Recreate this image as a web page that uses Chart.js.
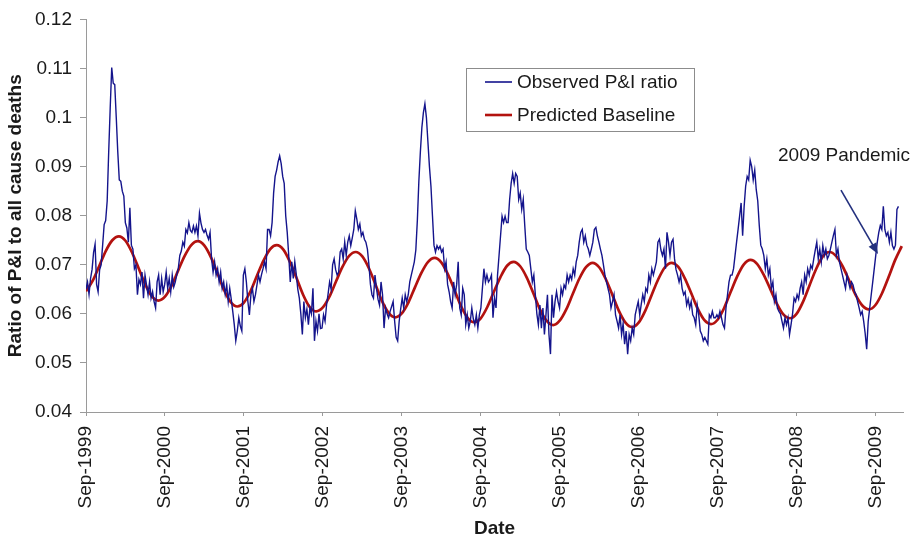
<!DOCTYPE html>
<html>
<head>
<meta charset="utf-8">
<script src="https://cdn.jsdelivr.net/npm/chart.js@4.4.1/dist/chart.umd.min.js"></script>
<style>
  html, body { margin: 0; padding: 0; background: #fff; }
</style>
</head>
<body>
<canvas id="piChart" width="920" height="540"></canvas>
<script>
// x axis runs in weeks from Sep-1999
const WEEKS_PER_YEAR = 52.18;
const xTickLabels = ['Sep-1999', 'Sep-2000', 'Sep-2001', 'Sep-2002', 'Sep-2003', 'Sep-2004',
    'Sep-2005', 'Sep-2006', 'Sep-2007', 'Sep-2008', 'Sep-2009'];
const seriesNames = ['Observed P&I ratio', 'Predicted Baseline'];

// weekly observed P&I ratio, one row of 52 weeks per season
const observedRatio = [
    // 1999-00
    0.0650, 0.0665, 0.0640, 0.0672, 0.0690, 0.0725, 0.0742, 0.0660, 0.0645, 0.0690,
    0.0700, 0.0740, 0.0782, 0.0790, 0.0830, 0.0930, 0.1020, 0.1102, 0.1070, 0.1067,
    0.1000, 0.0930, 0.0873, 0.0870, 0.0850, 0.0840, 0.0786, 0.0775, 0.0746, 0.0816,
    0.0740, 0.0732, 0.0692, 0.0700, 0.0639, 0.0670, 0.0660, 0.0685, 0.0632, 0.0679,
    0.0659, 0.0639, 0.0665, 0.0632, 0.0645, 0.0625, 0.0612, 0.0665, 0.0679, 0.0639,
    0.0672, 0.0645,
    // 2000-01
    0.0660, 0.0685, 0.0652, 0.0672, 0.0645, 0.0679, 0.0655, 0.0665, 0.0680, 0.0692,
    0.0719, 0.0728, 0.0746, 0.0738, 0.0772, 0.0765, 0.0786, 0.0770, 0.0766, 0.0779,
    0.0766, 0.0779, 0.0759, 0.0805, 0.0785, 0.0772, 0.0766, 0.0772, 0.0760, 0.0752,
    0.0766, 0.0712, 0.0685, 0.0706, 0.0679, 0.0692, 0.0665, 0.0685, 0.0652, 0.0665,
    0.0640, 0.0659, 0.0625, 0.0652, 0.0630, 0.0605, 0.0578, 0.0545, 0.0565, 0.0592,
    0.0575, 0.0565,
    // 2001-02
    0.0679, 0.0692, 0.0665, 0.0625, 0.0598, 0.0639, 0.0652, 0.0625, 0.0639, 0.0659,
    0.0679, 0.0665, 0.0680, 0.0692, 0.0706, 0.0692, 0.0772, 0.0772, 0.0759, 0.0786,
    0.0846, 0.0880, 0.0893, 0.0910, 0.0922, 0.0906, 0.0880, 0.0866, 0.0800, 0.0766,
    0.0719, 0.0665, 0.0706, 0.0672, 0.0706, 0.0680, 0.0650, 0.0632, 0.0600, 0.0558,
    0.0625, 0.0592, 0.0610, 0.0578, 0.0612, 0.0600, 0.0652, 0.0545, 0.0585, 0.0565,
    0.0600, 0.0570,
    // 2002-03
    0.0571, 0.0598, 0.0585, 0.0618, 0.0640, 0.0665, 0.0650, 0.0700, 0.0712, 0.0690,
    0.0679, 0.0685, 0.0726, 0.0732, 0.0712, 0.0746, 0.0719, 0.0746, 0.0759, 0.0739,
    0.0755, 0.0772, 0.0810, 0.0793, 0.0772, 0.0783, 0.0759, 0.0766, 0.0752, 0.0746,
    0.0732, 0.0700, 0.0660, 0.0639, 0.0632, 0.0679, 0.0652, 0.0630, 0.0618, 0.0665,
    0.0639, 0.0571, 0.0612, 0.0600, 0.0592, 0.0605, 0.0615, 0.0625, 0.0585, 0.0552,
    0.0545, 0.0585,
    // 2003-04
    0.0610, 0.0632, 0.0612, 0.0639, 0.0625, 0.0639, 0.0665, 0.0679, 0.0692, 0.0706,
    0.0730, 0.0790, 0.0870, 0.0930, 0.0980, 0.1010, 0.1028, 0.1000, 0.0950, 0.0900,
    0.0860, 0.0800, 0.0740, 0.0726, 0.0739, 0.0732, 0.0738, 0.0726, 0.0732, 0.0692,
    0.0706, 0.0660, 0.0645, 0.0625, 0.0612, 0.0665, 0.0639, 0.0660, 0.0706, 0.0612,
    0.0598, 0.0652, 0.0639, 0.0578, 0.0598, 0.0571, 0.0585, 0.0612, 0.0590, 0.0578,
    0.0598, 0.0571,
    // 2004-05
    0.0598, 0.0612, 0.0652, 0.0692, 0.0665, 0.0679, 0.0665, 0.0670, 0.0679, 0.0592,
    0.0632, 0.0612, 0.0679, 0.0719, 0.0759, 0.0799, 0.0786, 0.0799, 0.0786, 0.0786,
    0.0833, 0.0866, 0.0886, 0.0866, 0.0886, 0.0880, 0.0833, 0.0846, 0.0813, 0.0833,
    0.0780, 0.0732, 0.0726, 0.0719, 0.0692, 0.0665, 0.0679, 0.0639, 0.0600, 0.0578,
    0.0618, 0.0571, 0.0612, 0.0558, 0.0598, 0.0639, 0.0558, 0.0518, 0.0639, 0.0592,
    0.0625, 0.0645,
    // 2005-06
    0.0625, 0.0612, 0.0652, 0.0639, 0.0659, 0.0652, 0.0679, 0.0665, 0.0679, 0.0670,
    0.0692, 0.0679, 0.0706, 0.0719, 0.0746, 0.0766, 0.0772, 0.0746, 0.0759, 0.0740,
    0.0732, 0.0719, 0.0732, 0.0746, 0.0772, 0.0776, 0.0759, 0.0746, 0.0732, 0.0719,
    0.0700, 0.0679, 0.0665, 0.0652, 0.0639, 0.0612, 0.0625, 0.0639, 0.0598, 0.0585,
    0.0571, 0.0598, 0.0558, 0.0580, 0.0538, 0.0565, 0.0518, 0.0558, 0.0545, 0.0571,
    0.0558, 0.0598,
    // 2006-07
    0.0612, 0.0625, 0.0598, 0.0620, 0.0639, 0.0625, 0.0652, 0.0645, 0.0679, 0.0665,
    0.0692, 0.0679, 0.0692, 0.0706, 0.0746, 0.0752, 0.0730, 0.0719, 0.0732, 0.0692,
    0.0766, 0.0746, 0.0719, 0.0746, 0.0752, 0.0712, 0.0690, 0.0679, 0.0665, 0.0679,
    0.0652, 0.0639, 0.0645, 0.0618, 0.0630, 0.0612, 0.0625, 0.0598, 0.0592, 0.0578,
    0.0618, 0.0598, 0.0565, 0.0558, 0.0545, 0.0552, 0.0545, 0.0538, 0.0598, 0.0592,
    0.0605, 0.0592,
    // 2007-08
    0.0592, 0.0598, 0.0592, 0.0605, 0.0592, 0.0578, 0.0571, 0.0612, 0.0639, 0.0665,
    0.0679, 0.0679, 0.0692, 0.0719, 0.0746, 0.0772, 0.0799, 0.0826, 0.0759, 0.0819,
    0.0860, 0.0880, 0.0873, 0.0913, 0.0900, 0.0873, 0.0893, 0.0853, 0.0830, 0.0780,
    0.0740, 0.0732, 0.0719, 0.0692, 0.0712, 0.0679, 0.0692, 0.0652, 0.0665, 0.0625,
    0.0639, 0.0612, 0.0605, 0.0600, 0.0585, 0.0571, 0.0592, 0.0578, 0.0592, 0.0558,
    0.0578, 0.0600,
    // 2008-09
    0.0632, 0.0625, 0.0639, 0.0630, 0.0652, 0.0665, 0.0639, 0.0679, 0.0665, 0.0692,
    0.0679, 0.0699, 0.0692, 0.0712, 0.0730, 0.0746, 0.0712, 0.0732, 0.0706, 0.0739,
    0.0719, 0.0732, 0.0712, 0.0719, 0.0732, 0.0746, 0.0760, 0.0772, 0.0719, 0.0732,
    0.0706, 0.0692, 0.0679, 0.0665, 0.0652, 0.0679, 0.0665, 0.0652, 0.0665, 0.0659,
    0.0645, 0.0639, 0.0625, 0.0612, 0.0598, 0.0605, 0.0585, 0.0560, 0.0528, 0.0585,
    0.0612, 0.0639,
    // 2009 pandemic
    0.0665, 0.0692, 0.0719, 0.0746, 0.0766, 0.0780, 0.0772, 0.0819, 0.0772, 0.0759,
    0.0766, 0.0746, 0.0766, 0.0739, 0.0732, 0.0740, 0.0813, 0.0819
];

// monthly predicted baseline, starting Sep-1999
const baselineRatio = [
    0.0646, 0.0667, 0.0697, 0.0728, 0.0750, 0.0758, 0.0749, 0.0725, 0.0693, 0.0660, 0.0636, 0.0627,
    0.0635, 0.0657, 0.0688, 0.0718, 0.0740, 0.0748, 0.0739, 0.0715, 0.0682, 0.0648, 0.0624, 0.0615,
    0.0623, 0.0646, 0.0678, 0.0709, 0.0732, 0.0740, 0.0731, 0.0706, 0.0673, 0.0639, 0.0614, 0.0605,
    0.0613, 0.0635, 0.0666, 0.0696, 0.0718, 0.0726, 0.0717, 0.0693, 0.0660, 0.0626, 0.0602, 0.0593,
    0.0601, 0.0623, 0.0654, 0.0684, 0.0706, 0.0714, 0.0705, 0.0681, 0.0649, 0.0616, 0.0592, 0.0583,
    0.0591, 0.0614, 0.0645, 0.0675, 0.0698, 0.0706, 0.0697, 0.0674, 0.0642, 0.0609, 0.0586, 0.0577,
    0.0586, 0.0609, 0.0641, 0.0672, 0.0695, 0.0704, 0.0695, 0.0671, 0.0639, 0.0606, 0.0582, 0.0573,
    0.0582, 0.0606, 0.0639, 0.0671, 0.0695, 0.0704, 0.0696, 0.0673, 0.0642, 0.0610, 0.0587, 0.0579,
    0.0588, 0.0612, 0.0645, 0.0677, 0.0701, 0.0710, 0.0702, 0.0680, 0.0651, 0.0621, 0.0599, 0.0591,
    0.0600, 0.0625, 0.0659, 0.0692, 0.0717, 0.0726, 0.0718, 0.0697, 0.0668, 0.0638, 0.0617, 0.0609,
    0.0618, 0.0642, 0.0675, 0.0710, 0.0738
];

const FONT = 'Arial, "Liberation Sans", sans-serif';
const TEXT = '#1a1a1a';
const AXIS = '#9a9a9a';
const BLUE = '#14148c';
const RED = '#b3120f';

// legend box + "2009 Pandemic" note with its arrow
const notePlugin = {
    id: 'notePlugin',
    afterDatasetsDraw(chart) {
        const { ctx, scales: { x, y } } = chart;
        ctx.save();

        // legend
        ctx.fillStyle = '#fff';
        ctx.fillRect(466.5, 68.5, 228, 63);
        ctx.strokeStyle = '#8c8c8c';
        ctx.lineWidth = 1;
        ctx.strokeRect(466.5, 68.5, 228, 63);
        ctx.font = '19px ' + FONT;
        ctx.textBaseline = 'middle';
        chart.data.datasets.forEach((ds, i) => {
            const ly = 82 + i * 33;
            ctx.strokeStyle = ds.borderColor;
            ctx.lineWidth = i === 0 ? 1.6 : 2.6;
            ctx.beginPath();
            ctx.moveTo(485, ly);
            ctx.lineTo(512, ly);
            ctx.stroke();
            ctx.fillStyle = TEXT;
            ctx.fillText(ds.label, 517, ly + 1);
        });

        // note text
        ctx.fillStyle = TEXT;
        ctx.fillText('2009 Pandemic', x.getPixelForValue(457.4), y.getPixelForValue(0.0923));

        // arrow
        const x0 = x.getPixelForValue(499), y0 = y.getPixelForValue(0.0852);
        const x1 = x.getPixelForValue(523.5), y1 = y.getPixelForValue(0.0722);
        const ang = Math.atan2(y1 - y0, x1 - x0);
        ctx.strokeStyle = '#23307e';
        ctx.fillStyle = '#23307e';
        ctx.lineWidth = 1.6;
        ctx.beginPath();
        ctx.moveTo(x0, y0);
        ctx.lineTo(x1 - 8 * Math.cos(ang), y1 - 8 * Math.sin(ang));
        ctx.stroke();
        ctx.beginPath();
        ctx.moveTo(x1, y1);
        ctx.lineTo(x1 - 11 * Math.cos(ang) + 4.5 * Math.sin(ang), y1 - 11 * Math.sin(ang) - 4.5 * Math.cos(ang));
        ctx.lineTo(x1 - 11 * Math.cos(ang) - 4.5 * Math.sin(ang), y1 - 11 * Math.sin(ang) + 4.5 * Math.cos(ang));
        ctx.closePath();
        ctx.fill();
        ctx.restore();
    }
};

new Chart(document.getElementById('piChart'), {
    type: 'line',
    data: {
        datasets: [{
            label: seriesNames[0],
            data: observedRatio.map((v, i) => ({ x: i, y: v })),
            borderColor: BLUE,
            borderWidth: 1.4,
            tension: 0,
            pointRadius: 0
        }, {
            label: seriesNames[1],
            data: baselineRatio.map((v, i) => ({ x: i * WEEKS_PER_YEAR / 12, y: v })),
            borderColor: RED,
            borderWidth: 2.7,
            cubicInterpolationMode: 'monotone',
            pointRadius: 0
        }]
    },
    options: {
        responsive: false,
        animation: false,
        devicePixelRatio: 1,
        layout: { padding: { top: 14, right: 17, left: 0, bottom: 0 } },
        plugins: { legend: { display: false }, tooltip: { enabled: false } },
        scales: {
            x: {
                type: 'linear',
                min: 0,
                max: 540,
                afterBuildTicks: s => {
                    s.ticks = xTickLabels.map((_, i) => ({ value: i * WEEKS_PER_YEAR }));
                },
                afterFit: s => { s.height = 128; },
                ticks: {
                    callback: (v, i) => xTickLabels[i],
                    minRotation: 90,
                    maxRotation: 90,
                    autoSkip: false,
                    padding: 10,
                    color: TEXT,
                    font: { family: FONT, size: 19 }
                },
                grid: { drawOnChartArea: false, tickLength: 4, color: AXIS },
                border: { color: AXIS },
                title: {
                    display: true,
                    text: 'Date',
                    color: TEXT,
                    font: { family: FONT, size: 19, weight: 'bold' },
                    padding: { top: 0, bottom: 0 }
                }
            },
            y: {
                min: 0.04,
                max: 0.12,
                afterFit: s => { s.width = 86; },
                ticks: {
                    stepSize: 0.01,
                    callback: v => String(Number(v.toFixed(2))),
                    padding: 8,
                    color: TEXT,
                    font: { family: FONT, size: 19 }
                },
                grid: { drawOnChartArea: false, tickLength: 6, color: AXIS },
                border: { color: AXIS },
                title: {
                    display: true,
                    text: 'Ratio of P&I to all cause deaths',
                    color: TEXT,
                    font: { family: FONT, size: 19, weight: 'bold' },
                    padding: { top: 4, bottom: 0 }
                }
            }
        }
    },
    plugins: [notePlugin]
});
</script>
</body>
</html>
